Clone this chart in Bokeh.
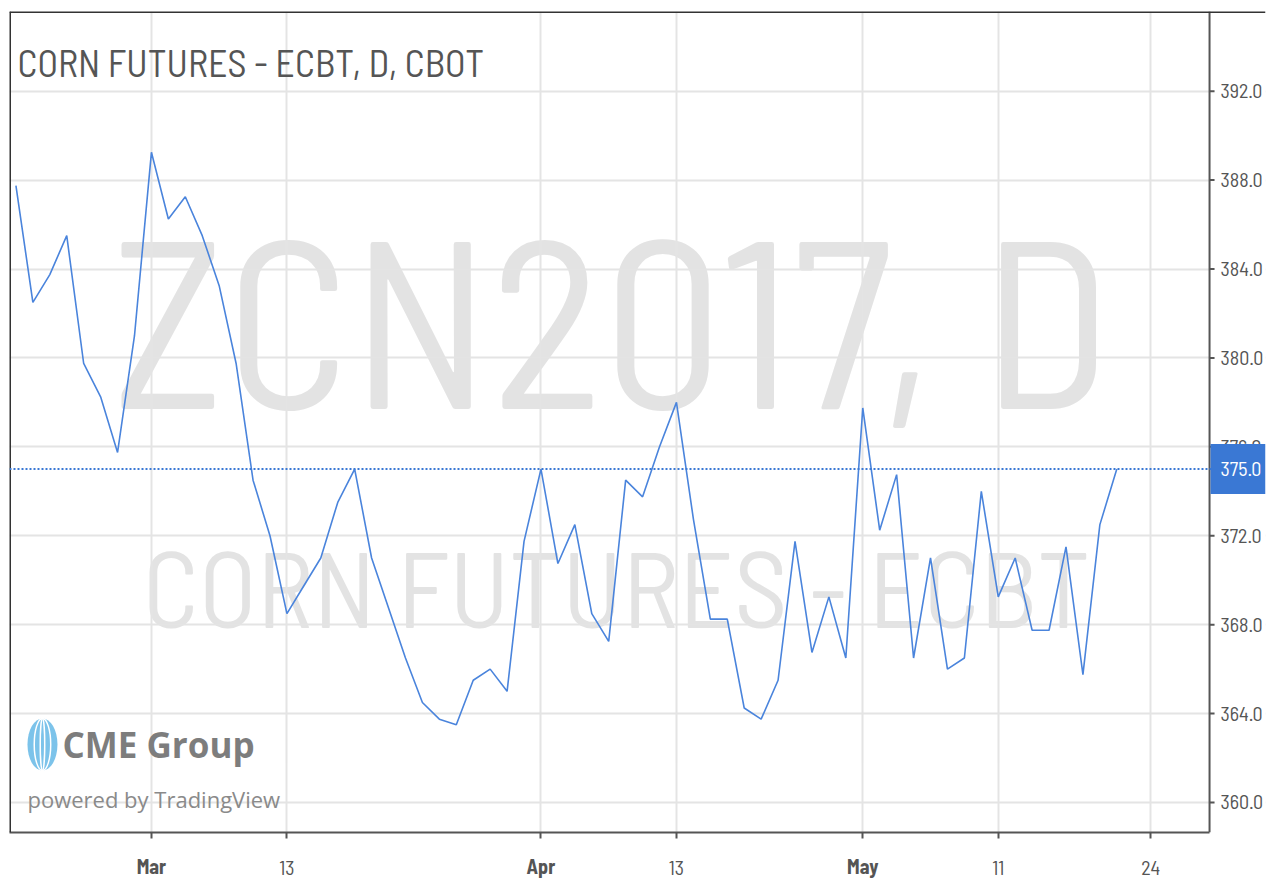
from bokeh.plotting import figure
from bokeh.models import (Range1d, FixedTicker, NumeralTickFormatter, Span, Label,
                          LinearAxis, BoxAnnotation)
from bokeh.embed import file_html
from bokeh.resources import INLINE

# ---- data (trading-day index, 0 = Mar 1 2017) ----
day_index = list(range(-8, 58))
close_prices = [
    387.75, 382.5, 383.75, 385.5, 379.75, 378.25, 375.75, 381.0,
    389.25, 386.25, 387.25, 385.5, 383.25, 379.75, 374.5, 372.0,
    368.5, 369.75, 371.0, 373.5, 375.0, 371.0, 368.75, 366.5,
    364.5, 363.75, 363.5, 365.5, 366.0, 365.0, 371.75, 375.0,
    370.75, 372.5, 368.5, 367.25, 374.5, 373.75, 376.0, 378.0,
    372.75, 368.25, 368.25, 364.25, 363.75, 365.5, 371.75, 366.75,
    369.25, 366.5, 377.75, 372.25, 374.75, 366.5, 371.0, 366.0,
    366.5, 374.0, 369.25, 371.0, 367.75, 367.75, 371.5, 365.75,
    372.5, 375.0,
]
last_price = 375.0
day_ticks = [0, 8, 23, 31, 42, 50, 59]
day_tick_text = ["", "13", "", "13", "", "11", "24"]
month_ticks = [0, 23, 42]
month_tick_text = ["Mar", "Apr", "May"]
y_ticks = [360, 364, 368, 372, 376, 380, 384, 388, 392]

title_text = "CORN FUTURES - ECBT, D, CBOT"
wm_big = "ZCN2017, D"
wm_small = "CORN FUTURES - ECBT"

# ---- layout ----
W, H = 1266, 886
BL, BT, BB = 9, 11, 54
FH = H - BT - BB
PXD = 16.95                     # pixels per trading day
X0 = -8.38
X1 = X0 + (W - BL) / PXD
X_AXIS = X0 + 1201 / PXD        # where the price scale sits
Y0, Y1 = 358.65, 395.585
PPU = FH / (Y1 - Y0)            # pixels per price unit

FONT = "Barlow Semi Condensed"
AXC = "#555555"
BLUE = "#3a78d4"

p = figure(width=W, height=H, output_backend="svg", toolbar_location=None,
           x_range=Range1d(X0, X1), y_range=Range1d(Y0, Y1),
           y_axis_location="right",
           min_border_left=BL, min_border_right=0,
           min_border_top=BT, min_border_bottom=BB)
p.outline_line_color = None
p.background_fill_color = "white"
p.border_fill_color = "white"

# grid
for g in (p.xgrid, p.ygrid):
    g.grid_line_color = "#e4e4e4"
    g.grid_line_width = 2

# price scale (right axis, labels pulled left over the scale strip)
ya = p.yaxis[0]
ya.ticker = FixedTicker(ticks=y_ticks)
p.ygrid.ticker = ya.ticker
ya.formatter = NumeralTickFormatter(format="0.0")
ya.major_label_text_font = FONT
ya.major_label_text_font_size = "20px"
ya.major_label_text_color = AXC
ya.axis_line_color = None
ya.major_tick_line_color = None
ya.major_tick_in = 0
ya.major_tick_out = 0
ya.minor_tick_line_color = None
ya.major_label_standoff = -45

# mask grid in the price-scale strip
p.add_layout(BoxAnnotation(left=X_AXIS, fill_color="white", fill_alpha=1.0,
                           line_color=None, level="underlay"))
p.add_layout(Span(location=X_AXIS, dimension="height", line_color=AXC, line_width=2))
tick_len = 5 / PXD
p.segment(x0=[X_AXIS] * len(y_ticks), y0=y_ticks,
          x1=[X_AXIS + tick_len] * len(y_ticks), y1=y_ticks,
          line_color=AXC, line_width=2)

# frame borders (left, top)
p.add_layout(Span(location=X0, dimension="height", line_color="#333333", line_width=3))
p.add_layout(Span(location=Y1, dimension="width", line_color="#333333", line_width=3))

# x axis: day labels
xa = p.xaxis[0]
xa.ticker = FixedTicker(ticks=day_ticks)
p.xgrid.ticker = xa.ticker
xa.major_label_overrides = dict(zip(day_ticks, day_tick_text))
xa.bounds = (X0, X_AXIS)
xa.major_label_text_font = FONT
xa.major_label_text_font_size = "20px"
xa.major_label_text_color = AXC
xa.axis_line_color = AXC
xa.axis_line_width = 2
xa.major_tick_line_color = AXC
xa.major_tick_line_width = 2
xa.major_tick_in = 0
xa.major_tick_out = 6
xa.minor_tick_line_color = None
xa.major_label_standoff = 22

# x axis: bold month labels, overlapped onto the same row
xm = LinearAxis(ticker=FixedTicker(ticks=month_ticks),
                major_label_overrides=dict(zip(month_ticks, month_tick_text)),
                axis_line_color=None, major_tick_line_color=None,
                minor_tick_line_color=None, major_tick_in=0, major_tick_out=0,
                major_label_standoff=-24,
                major_label_text_font=FONT, major_label_text_font_size="20px",
                major_label_text_font_style="bold", major_label_text_color=AXC)
p.add_layout(xm, "below")

# watermark
p.add_layout(Label(x=602, y=519, x_units="screen", y_units="screen", text=wm_big,
                   text_align="center", text_baseline="middle",
                   text_font=FONT, text_font_size="239px",
                   text_color="#e3e3e3", level="image"))
p.add_layout(Label(x=607, y=248, x_units="screen", y_units="screen", text=wm_small,
                   text_align="center", text_baseline="middle",
                   text_font=FONT, text_font_size="107px",
                   text_color="#e3e3e3", level="image"))

# title
p.add_layout(Label(x=8, y=771, x_units="screen", y_units="screen", text=title_text,
                   text_align="left", text_baseline="middle",
                   text_font=FONT, text_font_size="38px",
                   text_color="#555555"))

# logo
def dx(px):
    return X0 + (px - 10) / PXD

def dy(py):
    return Y1 - (py - 12) / PPU

gx, gy = dx(43), dy(745)
gw = 30 / PXD
gh = 52 / PPU
p.ellipse(x=[gx], y=[gy], width=[gw], height=[gh], fill_color="#7cc3ea",
          line_color=None, level="underlay")
p.ellipse(x=[gx], y=[gy], width=[gw * 0.55], height=[gh], fill_color=None,
          line_color="white", line_width=1.5, level="underlay")
p.ellipse(x=[gx], y=[gy], width=[gw * 0.15], height=[gh], fill_color=None,
          line_color="white", line_width=1.5, level="underlay")
p.add_layout(Label(x=53, y=88, x_units="screen", y_units="screen", text="CME Group",
                   text_align="left", text_baseline="middle",
                   text_font="Open Sans", text_font_size="35px",
                   text_font_style="bold", text_color="#7d7d7d"))
p.add_layout(Label(x=18, y=34, x_units="screen", y_units="screen",
                   text="powered by TradingView",
                   text_align="left", text_baseline="middle",
                   text_font="Open Sans", text_font_size="22px",
                   text_color="#8a8a8a"))

# price line
p.line(day_index, close_prices, line_color="#4a84dc", line_width=1.6)

# last price marker
p.add_layout(Span(location=last_price, dimension="width", line_color=BLUE,
                  line_width=2, line_dash="2 2"))
p.add_layout(BoxAnnotation(left=X_AXIS + 1 / PXD,
                           bottom=last_price - 25 / PPU, top=last_price + 25 / PPU,
                           fill_color=BLUE, fill_alpha=1.0, line_color=None))
p.add_layout(Label(x=X_AXIS + 11 / PXD, x_units="data", y=last_price, y_units="data",
                   text=f"{last_price:.1f}", text_align="left", text_baseline="middle",
                   text_font=FONT, text_font_size="20px", text_color="white"))

open("out.html", "w").write(file_html(p, INLINE))
